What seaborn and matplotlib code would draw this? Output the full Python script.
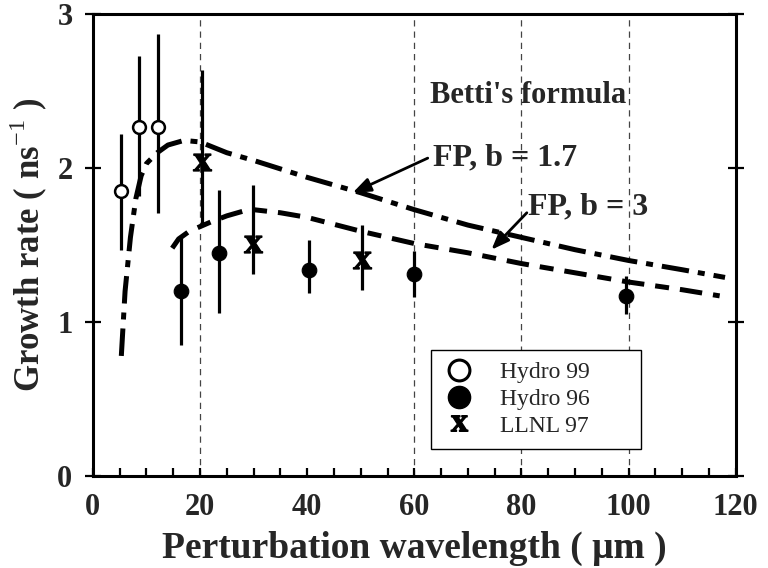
import matplotlib
matplotlib.use("Agg")
import matplotlib.pyplot as plt
from matplotlib.lines import Line2D
import seaborn as sns
import numpy as np

# ---------------- data ----------------
# Betti's formula curves
fp17_x = [5.3, 6, 7, 8, 9, 10, 12, 14, 17, 20, 25, 30, 40, 50, 60, 70, 80, 90, 100, 110, 118]
fp17_y = [0.78, 1.2, 1.55, 1.8, 1.95, 2.03, 2.1, 2.15, 2.18, 2.17, 2.1, 2.05, 1.94, 1.84, 1.73, 1.63, 1.55, 1.47, 1.40, 1.34, 1.29]

fp3_x = [14.8, 16, 18, 20, 22, 25, 28, 30, 35, 40, 50, 60, 70, 80, 90, 100, 110, 117]
fp3_y = [1.48, 1.54, 1.59, 1.62, 1.65, 1.69, 1.72, 1.73, 1.71, 1.68, 1.59, 1.51, 1.45, 1.38, 1.32, 1.26, 1.21, 1.17]

# Hydro 99 (open circles)
h99_x = [5.2, 8.6, 12.1]
h99_y = [1.85, 2.27, 2.27]
h99_lo = [0.38, 0.45, 0.56]
h99_hi = [0.37, 0.46, 0.60]

# Hydro 96 (filled circles)
h96_x = [16.4, 23.6, 40.4, 60.0, 99.5]
h96_y = [1.20, 1.45, 1.34, 1.31, 1.17]
h96_lo = [0.35, 0.39, 0.15, 0.15, 0.12]
h96_hi = [0.35, 0.41, 0.19, 0.15, 0.13]

# LLNL 97 (x)
ll_x = [20.3, 29.8, 50.2]
ll_y = [2.04, 1.51, 1.40]
ll_lo = [0.41, 0.20, 0.19]
ll_hi = [0.60, 0.38, 0.23]

grid_x = [20, 60, 80, 100]
x_ticks = [0, 20, 40, 60, 80, 100, 120]
y_ticks = [0, 1, 2, 3]

# ---------------- style ----------------
sns.set_theme(style="white")
plt.rcParams['font.family'] = ['Liberation Serif', 'DejaVu Serif']
plt.rcParams['mathtext.fontset'] = 'custom'
plt.rcParams['mathtext.rm'] = 'Liberation Serif'
plt.rcParams['mathtext.bf'] = 'Liberation Serif:bold'

fig = plt.figure(figsize=(7.68, 5.68), dpi=100)
ax = fig.add_axes([0.121, 0.162, 0.837, 0.813])

for gx in grid_x:
    ax.axvline(gx, color='#444444', lw=0.9, dashes=(5, 4), zorder=0)

# curves
sns.lineplot(x=fp17_x, y=fp17_y, ax=ax, color='black', lw=3.6, zorder=2)
l1 = ax.get_lines()[-1]
l1.set_dashes((5.5, 1.8, 1.4, 1.8))
l1.set_dash_capstyle('butt')
sns.lineplot(x=fp3_x, y=fp3_y, ax=ax, color='black', lw=3.6, zorder=2)
l2 = ax.get_lines()[-1]
l2.set_dashes((4.5, 2.2, 2.8, 2.2))
l2.set_dash_capstyle('butt')

# error bars
for xs, ys, lo, hi in [(h99_x, h99_y, h99_lo, h99_hi),
                       (h96_x, h96_y, h96_lo, h96_hi),
                       (ll_x, ll_y, ll_lo, ll_hi)]:
    ax.errorbar(xs, ys, yerr=[lo, hi], fmt='none', ecolor='black',
                elinewidth=2.3, capsize=0, zorder=3)

# markers
sns.scatterplot(x=h99_x, y=h99_y, ax=ax, marker='o', s=85, facecolor='white',
                edgecolor='black', linewidth=1.8, zorder=4)
sns.scatterplot(x=h96_x, y=h96_y, ax=ax, marker='o', s=110, color='black',
                edgecolor='black', zorder=4)
ax.plot(ll_x, ll_y, linestyle='none', marker=r'$\mathbf{x}$', ms=13,
        color='black', zorder=4)

ax.set_xlim(0, 120)
ax.set_ylim(0, 3)
ax.set_xticks(x_ticks)
ax.set_xticks(np.arange(5, 120, 5), minor=True)
ax.set_yticks(y_ticks)

for s in ax.spines.values():
    s.set_visible(True)
    s.set_color('black')
    s.set_linewidth(2.2)

ax.tick_params(axis='x', which='both', direction='in', length=6, width=1.6,
               color='black', bottom=True, top=False, pad=12,
               labelsize=22)
ax.tick_params(axis='y', which='major', direction='inout', length=11.5, width=1.6,
               color='black', left=True, right=True, pad=9, labelsize=22)
for lab in ax.get_xticklabels() + ax.get_yticklabels():
    lab.set_fontweight('bold')

ax.set_xlabel('Perturbation wavelength ( μm )', fontsize=27, fontweight='bold', labelpad=7)
ax.set_ylabel(r'Growth rate ( ns$^{-1}$ )', fontsize=25, fontweight='bold', labelpad=5)

# annotations
ax.text(62.9, 2.42, "Betti's formula", fontsize=22, fontweight='bold', va='baseline')
ax.text(63.4, 2.02, "FP, b = 1.7", fontsize=23, fontweight='bold', va='baseline')
ax.text(81.3, 1.70, "FP, b = 3", fontsize=23, fontweight='bold', va='baseline')
arrow_kw = dict(arrowstyle='-|>,head_length=0.9,head_width=0.35', color='black', lw=2.0,
                shrinkA=0, shrinkB=0)
ax.annotate('', xy=(48.5, 1.84), xytext=(62.5, 2.065), arrowprops=arrow_kw)
ax.annotate('', xy=(74.4, 1.47), xytext=(81.0, 1.71), arrowprops=arrow_kw)

# legend
handles = [
    Line2D([], [], linestyle='none', marker='o', ms=15, mfc='white', mec='black', mew=2.2),
    Line2D([], [], linestyle='none', marker='o', ms=16, mfc='black', mec='black'),
    Line2D([], [], linestyle='none', marker=r'$\mathbf{x}$', ms=12, color='black'),
]
labels = ['Hydro 99', 'Hydro 96', 'LLNL 97']
leg = ax.legend(handles, labels, loc='upper left',
                bbox_to_anchor=(0.526, 0.058, 0.326, 0.215), mode='expand',
                frameon=True, fancybox=False, edgecolor='black', framealpha=1,
                prop={'family': 'Liberation Serif', 'size': 17},
                handlelength=1.4, handletextpad=1.0, labelspacing=0.22,
                borderpad=0.5, borderaxespad=0, alignment='left')
leg.get_frame().set_linewidth(1.0)

fig.savefig('out.png', dpi=100)
